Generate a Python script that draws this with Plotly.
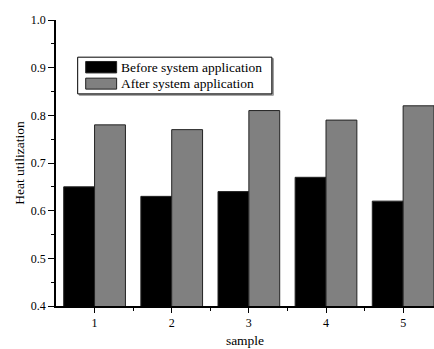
import plotly.graph_objects as go

samples = [1, 2, 3, 4, 5]
before = [0.65, 0.63, 0.64, 0.67, 0.62]
after = [0.78, 0.77, 0.81, 0.79, 0.82]
series_names = ["Before system application", "After system application"]
colors = ["#000000", "#808080"]
y_ticks = [0.4, 0.5, 0.6, 0.7, 0.8, 0.9, 1.0]

FONT = "Liberation Serif"

fig = go.Figure()
for name, vals, col in zip(series_names, [before, after], colors):
    fig.add_trace(go.Bar(
        x=samples, y=vals, name=name,
        marker=dict(color=col, line=dict(color="#222222", width=1)),
        showlegend=False,
    ))

# manual legend (box + swatches + labels), positioned in axis units
legend_x0, legend_x1 = 0.781, 3.298
legend_y0, legend_y1 = 0.845, 0.922
shapes = [
    dict(type="rect", xref="x", yref="y", x0=legend_x0 + 0.02, x1=legend_x1 + 0.02,
         y0=legend_y0 - 0.003, y1=legend_y1 - 0.003,
         line=dict(color="#999999", width=1), fillcolor="#999999", layer="above"),
    dict(type="rect", xref="x", yref="y", x0=legend_x0, x1=legend_x1,
         y0=legend_y0, y1=legend_y1,
         line=dict(color="#000000", width=1), fillcolor="white", layer="above"),
]
annotations = []
sw_x0, sw_x1 = 0.885, 1.286
rows = [(0.913, 0.889), (0.878, 0.855)]
for (ya, yb), col, name in zip(rows, colors, series_names):
    shapes.append(dict(type="rect", xref="x", yref="y", x0=sw_x0, x1=sw_x1, y0=yb, y1=ya,
                       line=dict(color="#222222", width=1), fillcolor=col, layer="above"))
    annotations.append(dict(x=1.32, y=(ya + yb) / 2, xref="x", yref="y", text=name,
                            showarrow=False, xanchor="left", yanchor="middle",
                            font=dict(family=FONT, size=13.5, color="black")))

fig.update_layout(
    width=434, height=349,
    margin=dict(l=56, r=0, t=20, b=43),
    paper_bgcolor="white", plot_bgcolor="white",
    barmode="group", bargap=0.2, bargroupgap=0,
    font=dict(family=FONT, color="black"),
    shapes=shapes, annotations=annotations,
    xaxis=dict(
        range=[0.5, 5.4], tickvals=samples, ticktext=[str(s) for s in samples],
        showline=True, linecolor="black", linewidth=1.5,
        ticks="outside", ticklen=5, tickwidth=1, tickcolor="black",
        minor=dict(tickvals=[1.5, 2.5, 3.5, 4.5], ticks="outside", ticklen=3, tickcolor="black"),
        showgrid=False, zeroline=False,
        tickfont=dict(size=12, family=FONT),
        title=dict(text="sample", font=dict(size=13.5, family=FONT), standoff=6),
    ),
    yaxis=dict(
        range=[0.4, 1.0], tickvals=y_ticks, ticktext=[f"{v:.1f}" for v in y_ticks],
        showline=True, linecolor="black", linewidth=1.5,
        ticks="outside", ticklen=6, tickwidth=1, tickcolor="black",
        minor=dict(dtick=0.05, ticks="outside", ticklen=3, tickcolor="black", showgrid=False),
        showgrid=False, zeroline=False,
        tickfont=dict(size=12, family=FONT),
        title=dict(text="Heat utilization", font=dict(size=13.5, family=FONT), standoff=3),
    ),
)

fig.write_html(
    "out.html",
    config={"displayModeBar": False},
    post_script="document.body.style.margin='0';document.body.style.padding='0';document.body.style.overflow='hidden';",
)
